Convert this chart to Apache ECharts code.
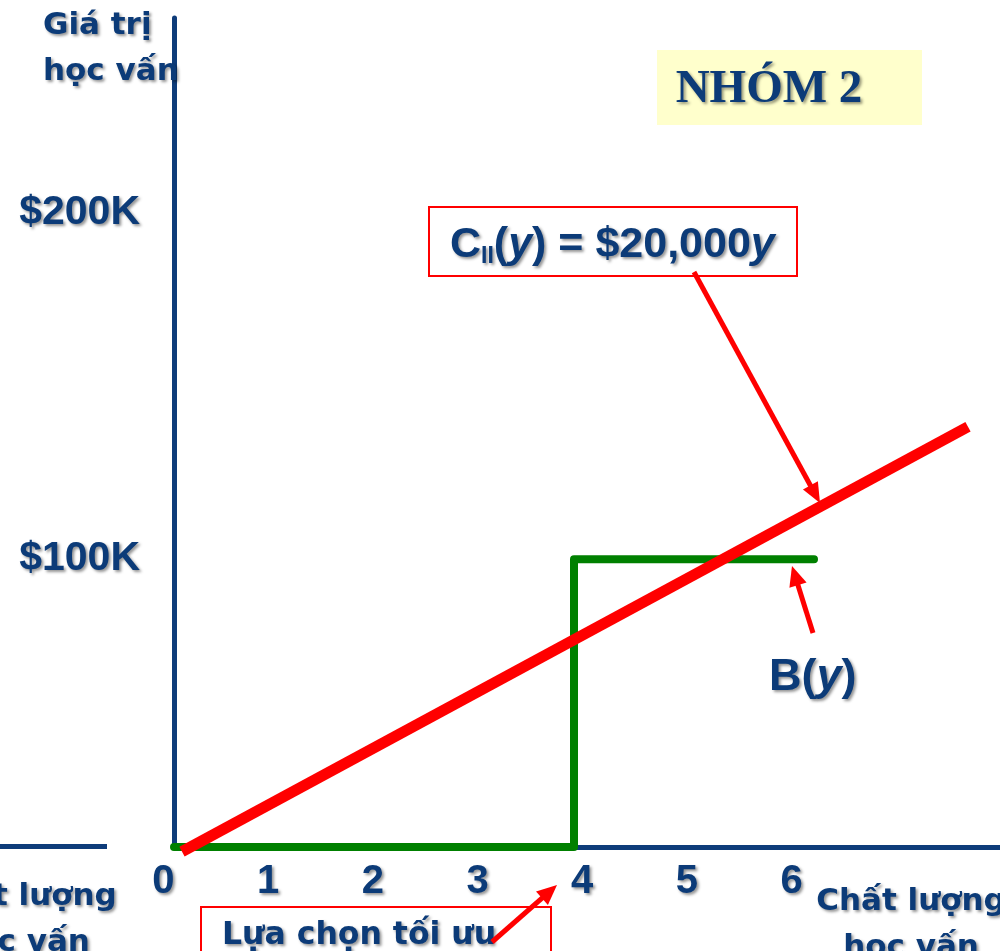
<!DOCTYPE html>
<html>
<head>
<meta charset="utf-8">
<script src="https://cdn.jsdelivr.net/npm/echarts@6/dist/echarts.min.js"></script>
<style>
html,body{margin:0;padding:0;background:#fff;}
#c{width:1000px;height:951px;}
</style>
</head>
<body>
<div id="c"></div>
<script>
// ---- data ----
const xTickLabels = [0, 1, 2, 3, 4, 5, 6];
const yTickValues = [100000, 200000];
const benefitX = [0, 4, 4, 6.4];
const benefitY = [0, 0, 100000, 100000];
const costX = [0.08, 7.94];
const costY = [-1600, 146000];

const NAVY = '#0C3B78';
const AXIS = '#0E3C7A';
const RED = '#FF0000';
const GREEN = '#008000';
const ARIAL = '"Liberation Sans", Arial, sans-serif';
const VERD = '"DejaVu Sans", Verdana, sans-serif';
const SERIF = '"Liberation Serif", "Times New Roman", serif';
const shadow = {textShadowColor: 'rgba(0,0,0,0.42)', textShadowBlur: 3, textShadowOffsetX: 2, textShadowOffsetY: 2};

const chart = echarts.init(document.getElementById('c'), null, {renderer: 'canvas'});

function arrow(x1, y1, x2, y2, headL, headW, lw) {
  const dx = x2 - x1, dy = y2 - y1, L = Math.hypot(dx, dy), ux = dx / L, uy = dy / L;
  const bx = x2 - ux * headL, by = y2 - uy * headL;
  const px = -uy, py = ux;
  return [
    {type: 'line', z: 50, shape: {x1: x1, y1: y1, x2: bx + ux * 2, y2: by + uy * 2}, style: {stroke: RED, lineWidth: lw}},
    {type: 'polygon', z: 50, shape: {points: [[x2, y2], [bx + px * headW / 2, by + py * headW / 2], [bx - px * headW / 2, by - py * headW / 2]]}, style: {fill: RED}}
  ];
}

const graphics = [].concat(
  [
    {type: 'line', shape: {x1: 0, y1: 846.5, x2: 107, y2: 846.5}, style: {stroke: AXIS, lineWidth: 5}},
    {type: 'text', x: 43, y: 49, z: 40,
      style: Object.assign({text: 'Giá trị\nhọc vấn', font: 'bold 31px ' + VERD, fill: NAVY, lineHeight: 46, textAlign: 'left', textVerticalAlign: 'middle'}, shadow)},
    {type: 'rect', z: 30, shape: {x: 657, y: 50, width: 265, height: 75}, style: {fill: '#FFFFCC'}},
    {type: 'text', z: 40, x: 769, y: 90,
      style: Object.assign({text: 'NHÓM 2', font: 'bold 47px ' + SERIF, fill: NAVY, textAlign: 'center', textVerticalAlign: 'middle'}, shadow)},
    {type: 'rect', z: 30, shape: {x: 429, y: 207, width: 368, height: 69}, style: {fill: '#fff', stroke: RED, lineWidth: 2}},
    {type: 'text', z: 40, x: 450, y: 245,
      style: Object.assign({
        text: '{a|C}{s|II}{a|(}{i|y}{a|) = $20,000}{i|y}',
        textAlign: 'left', textVerticalAlign: 'middle',
        rich: {
          a: Object.assign({font: 'bold 43px ' + ARIAL, fill: NAVY, lineHeight: 46, verticalAlign: 'middle'}, shadow),
          i: Object.assign({font: 'italic bold 43px ' + ARIAL, fill: NAVY, lineHeight: 46, verticalAlign: 'middle'}, shadow),
          s: Object.assign({font: 'bold 23px ' + ARIAL, fill: NAVY, lineHeight: 24, verticalAlign: 'bottom'}, shadow)
        }
      }, shadow)},
    {type: 'text', z: 40, x: 769, y: 678,
      style: Object.assign({
        text: '{a|B(}{i|y}{a|)}', textAlign: 'left', textVerticalAlign: 'middle',
        rich: {
          a: Object.assign({font: 'bold 45px ' + ARIAL, fill: NAVY}, shadow),
          i: Object.assign({font: 'italic bold 45px ' + ARIAL, fill: NAVY}, shadow)
        }
      }, shadow)},
    {type: 'text', z: 40, x: 911, y: 925,
      style: Object.assign({text: 'Chất lượng\nhọc vấn', font: 'bold 31px ' + VERD, fill: NAVY, lineHeight: 46, textAlign: 'center', textVerticalAlign: 'middle'}, shadow)},
    {type: 'text', z: 40, x: 22, y: 920,
      style: Object.assign({text: 'Chất lượng\nhọc vấn', font: 'bold 31px ' + VERD, fill: NAVY, lineHeight: 46, textAlign: 'center', textVerticalAlign: 'middle'}, shadow)},
    {type: 'rect', z: 30, shape: {x: 201, y: 907, width: 350, height: 60}, style: {fill: '#fff', stroke: RED, lineWidth: 2}},
    {type: 'text', z: 40, x: 222, y: 936,
      style: Object.assign({text: 'Lựa chọn tối ưu', font: 'bold 31.5px ' + VERD, fill: NAVY, textAlign: 'left', textVerticalAlign: 'middle'}, shadow)}
  ],
  arrow(694, 272, 820, 503, 20, 17, 5),
  arrow(813, 633, 792, 566, 20, 18, 5),
  arrow(492, 942, 557, 885, 20, 18, 5)
);

const option = {
  animation: false,
  backgroundColor: '#fff',
  grid: [
    {left: 174, right: 0, top: 18, bottom: 104, outerBoundsMode: 'none', containLabel: false},
    {left: 0, right: 0, top: 18, bottom: 104, outerBoundsMode: 'none', containLabel: false}
  ],
  xAxis: [
    {type: 'value', gridIndex: 0, min: 0, max: 8.26, position: 'bottom',
      axisLine: {show: true, onZero: false, lineStyle: {color: AXIS, width: 5}},
      axisTick: {show: false}, axisLabel: {show: false}, splitLine: {show: false}},
    {type: 'value', gridIndex: 1, min: -1.5593, max: 7.9888, position: 'bottom',
      axisLine: {show: false}, axisTick: {show: false}, splitLine: {show: false},
      axisLabel: Object.assign({show: true, customValues: xTickLabels, margin: 15,
        color: NAVY, fontFamily: ARIAL, fontWeight: 'bold', fontSize: 40,
        formatter: function (v) { return String(v); }}, shadow)}
  ],
  yAxis: [
    {type: 'value', gridIndex: 0, min: 0, max: 288000, position: 'left',
      axisLine: {show: true, onZero: false, lineStyle: {color: AXIS, width: 5}},
      axisTick: {show: false}, axisLabel: {show: false}, splitLine: {show: false}},
    {type: 'value', gridIndex: 0, min: 16763, max: 256358, position: 'left',
      axisLine: {show: false, onZero: false}, axisTick: {show: false}, splitLine: {show: false},
      axisLabel: Object.assign({show: true, customValues: yTickValues, margin: 34,
        color: NAVY, fontFamily: ARIAL, fontWeight: 'bold', fontSize: 41,
        formatter: function (v) { return '$' + (v / 1000) + 'K'; }}, shadow)},
    {type: 'value', gridIndex: 1, min: 0, max: 1, show: false}
  ],
  series: [
    {type: 'line', xAxisIndex: 0, yAxisIndex: 0, symbol: 'none', clip: false, z: 5,
      data: benefitX.map(function (x, i) { return [x, benefitY[i]]; }),
      lineStyle: {color: GREEN, width: 8, cap: 'round', join: 'round'}},
    {type: 'line', xAxisIndex: 0, yAxisIndex: 0, symbol: 'none', clip: false, z: 6,
      data: costX.map(function (x, i) { return [x, costY[i]]; }),
      lineStyle: {color: RED, width: 11, cap: 'butt'}}
  ],
  graphic: graphics
};
chart.setOption(option);
</script>
</body>
</html>
